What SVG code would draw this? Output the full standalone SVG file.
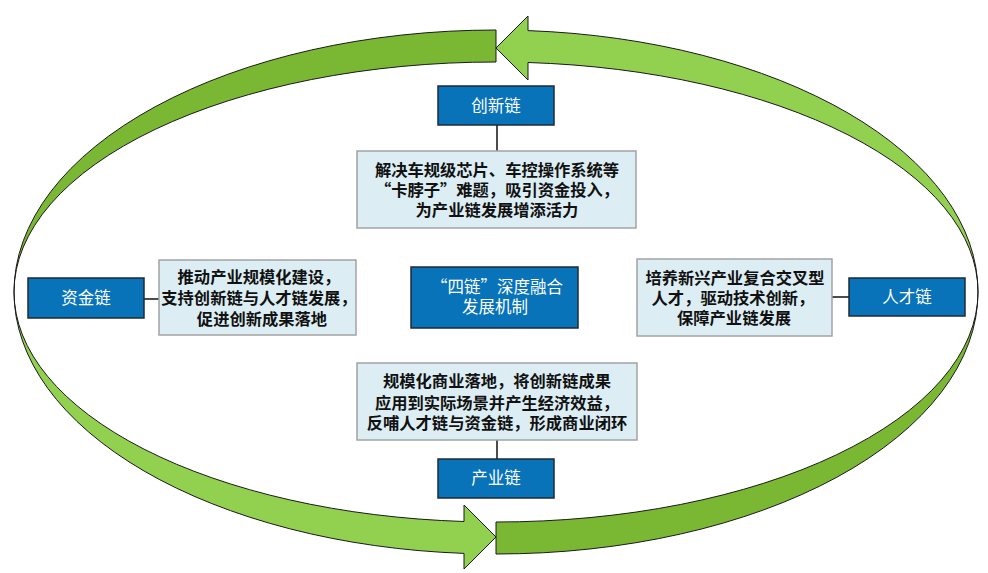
<svg xmlns="http://www.w3.org/2000/svg" width="988" height="573" viewBox="0 0 988 573">
<style>
.light{fill:#92D050;stroke:#1a1a1a;stroke-width:1}
.dark{fill:#7AB833;stroke:#1a1a1a;stroke-width:1}
.chain rect{fill:#0873B9;stroke:#1f2a36;stroke-width:1.5}
.chain text{fill:#fff;font-family:"Noto Sans CJK SC","Noto Sans",sans-serif;font-size:16.5px;text-anchor:middle}
.desc rect{fill:#DCEEF4;stroke:#A3A3A3;stroke-width:1.5}
.desc text{fill:#111;font-family:"Noto Sans CJK SC","Noto Sans",sans-serif;font-size:16.3px;font-weight:bold;text-anchor:middle}
.conn line{stroke:#111;stroke-width:1.5}
</style>
<rect width="988" height="573" fill="#fff"/>
<g id="ring">
<path class="dark" d="M 496 30 A 482 262 0 0 0 14 292 A 482 230 0 0 1 496 62 Z"/>
<path class="dark" d="M 496 554 A 482 262 0 0 0 978 292 A 482 230 0 0 1 496 522 Z"/>
<path class="light" d="M 978 292 A 482 262 0 0 0 528 30.6 L 528 16 L 496 48 L 528 80 L 528 62.5 A 482 230 0 0 1 978 292 Z"/>
<path class="light" d="M 14 292 A 482 262 0 0 0 464 553.4 L 464 569 L 496 537 L 464 505 L 464 521.5 A 482 230 0 0 1 14 292 Z"/>
</g>
<g id="connectors" class="conn">
<line x1="497" y1="125" x2="497" y2="151"/>
<line x1="144" y1="299" x2="159" y2="299"/>
<line x1="832" y1="297" x2="849" y2="297"/>
<line x1="497" y1="440" x2="497" y2="459"/>
</g>
<g id="innovation" class="chain">
<rect x="438" y="86" width="116" height="39"/>
<text x="496" y="112">创新链</text>
</g>
<g id="innovation-desc" class="desc">
<rect x="357" y="151" width="279" height="77"/>
<text x="497" y="176">解决车规级芯片、车控操作系统等</text>
<text x="497" y="196">“卡脖子”难题，吸引资金投入，</text>
<text x="497" y="216">为产业链发展增添活力</text>
</g>
<g id="capital" class="chain">
<rect x="28" y="278" width="116" height="40"/>
<text x="86" y="304">资金链</text>
</g>
<g id="capital-desc" class="desc">
<rect x="159" y="260" width="197" height="75"/>
<text x="259" y="283">推动产业规模化建设，</text>
<text x="259" y="304">支持创新链与人才链发展，</text>
<text x="262" y="325">促进创新成果落地</text>
</g>
<g id="center" class="chain">
<rect x="411" y="267" width="167" height="61"/>
<text x="497" y="293">“四链”深度融合</text>
<text x="495" y="313">发展机制</text>
</g>
<g id="talent-desc" class="desc">
<rect x="637" y="259" width="195" height="77"/>
<text x="735" y="284">培养新兴产业复合交叉型</text>
<text x="733" y="304">人才，驱动技术创新，</text>
<text x="734" y="324">保障产业链发展</text>
</g>
<g id="talent" class="chain">
<rect x="849" y="278" width="116" height="38"/>
<text x="907" y="303">人才链</text>
</g>
<g id="industry-desc" class="desc">
<rect x="357" y="363" width="280" height="77"/>
<text x="497" y="387">规模化商业落地，将创新链成果</text>
<text x="497" y="409">应用到实际场景并产生经济效益，</text>
<text x="497" y="429">反哺人才链与资金链，形成商业闭环</text>
</g>
<g id="industry" class="chain">
<rect x="438" y="459" width="116" height="39"/>
<text x="496" y="484">产业链</text>
</g>
</svg>
